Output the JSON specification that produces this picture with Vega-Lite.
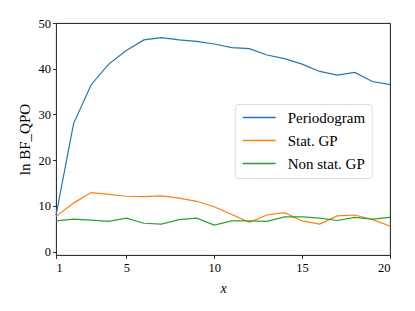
{
  "$schema": "https://vega.github.io/schema/vega-lite/v6.json",
  "autosize": {"type": "none"},
  "padding": {"left": 56, "top": 23, "right": 25, "bottom": 56},
  "width": 334,
  "height": 232,
  "background": "white",
  "config": {
    "font": "Liberation Serif",
    "view": {"stroke": "black", "strokeWidth": 0.9},
    "axis": {"grid": false, "domain": false, "tickColor": "black", "tickSize": 3.5, "tickWidth": 0.8, "labelColor": "black", "labelFontSize": 12.5, "labelPadding": 2, "titleColor": "black", "titleFontWeight": "normal", "titleFontSize": 14}
  },
  "data": {"values": [
    {"x": 1, "series": "Periodogram", "v": 7.9},
    {"x": 2, "series": "Periodogram", "v": 28.0},
    {"x": 3, "series": "Periodogram", "v": 36.5},
    {"x": 4, "series": "Periodogram", "v": 41.0},
    {"x": 5, "series": "Periodogram", "v": 44.0},
    {"x": 6, "series": "Periodogram", "v": 46.3},
    {"x": 7, "series": "Periodogram", "v": 46.8},
    {"x": 8, "series": "Periodogram", "v": 46.3},
    {"x": 9, "series": "Periodogram", "v": 46.0},
    {"x": 10, "series": "Periodogram", "v": 45.4},
    {"x": 11, "series": "Periodogram", "v": 44.6},
    {"x": 12, "series": "Periodogram", "v": 44.4},
    {"x": 13, "series": "Periodogram", "v": 43.0},
    {"x": 14, "series": "Periodogram", "v": 42.2},
    {"x": 15, "series": "Periodogram", "v": 41.0},
    {"x": 16, "series": "Periodogram", "v": 39.4},
    {"x": 17, "series": "Periodogram", "v": 38.6},
    {"x": 18, "series": "Periodogram", "v": 39.2},
    {"x": 19, "series": "Periodogram", "v": 37.2},
    {"x": 20, "series": "Periodogram", "v": 36.5},
    {"x": 1, "series": "Stat. GP", "v": 7.7},
    {"x": 2, "series": "Stat. GP", "v": 10.6},
    {"x": 3, "series": "Stat. GP", "v": 12.9},
    {"x": 4, "series": "Stat. GP", "v": 12.5},
    {"x": 5, "series": "Stat. GP", "v": 12.1},
    {"x": 6, "series": "Stat. GP", "v": 12.0},
    {"x": 7, "series": "Stat. GP", "v": 12.2},
    {"x": 8, "series": "Stat. GP", "v": 11.7},
    {"x": 9, "series": "Stat. GP", "v": 11.0},
    {"x": 10, "series": "Stat. GP", "v": 9.8},
    {"x": 11, "series": "Stat. GP", "v": 8.1},
    {"x": 12, "series": "Stat. GP", "v": 6.4},
    {"x": 13, "series": "Stat. GP", "v": 8.0},
    {"x": 14, "series": "Stat. GP", "v": 8.5},
    {"x": 15, "series": "Stat. GP", "v": 6.7},
    {"x": 16, "series": "Stat. GP", "v": 6.0},
    {"x": 17, "series": "Stat. GP", "v": 7.8},
    {"x": 18, "series": "Stat. GP", "v": 8.0},
    {"x": 19, "series": "Stat. GP", "v": 7.0},
    {"x": 20, "series": "Stat. GP", "v": 5.6},
    {"x": 1, "series": "Non stat. GP", "v": 6.7},
    {"x": 2, "series": "Non stat. GP", "v": 7.1},
    {"x": 3, "series": "Non stat. GP", "v": 6.9},
    {"x": 4, "series": "Non stat. GP", "v": 6.6},
    {"x": 5, "series": "Non stat. GP", "v": 7.3},
    {"x": 6, "series": "Non stat. GP", "v": 6.2},
    {"x": 7, "series": "Non stat. GP", "v": 6.0},
    {"x": 8, "series": "Non stat. GP", "v": 7.0},
    {"x": 9, "series": "Non stat. GP", "v": 7.3},
    {"x": 10, "series": "Non stat. GP", "v": 5.8},
    {"x": 11, "series": "Non stat. GP", "v": 6.7},
    {"x": 12, "series": "Non stat. GP", "v": 6.7},
    {"x": 13, "series": "Non stat. GP", "v": 6.6},
    {"x": 14, "series": "Non stat. GP", "v": 7.6},
    {"x": 15, "series": "Non stat. GP", "v": 7.6},
    {"x": 16, "series": "Non stat. GP", "v": 7.3},
    {"x": 17, "series": "Non stat. GP", "v": 6.8},
    {"x": 18, "series": "Non stat. GP", "v": 7.5},
    {"x": 19, "series": "Non stat. GP", "v": 7.1},
    {"x": 20, "series": "Non stat. GP", "v": 7.5}
  ]},
  "mark": {"type": "line", "strokeWidth": 1.2},
  "encoding": {
    "x": {"field": "x", "type": "quantitative", "scale": {"domain": [1, 20], "nice": false, "zero": false}, "axis": {"values": [1, 5, 10, 15, 20], "title": "x", "titleFontStyle": "italic", "titlePadding": 7, "labelPadding": 3}},
    "y": {"field": "v", "type": "quantitative", "scale": {"domain": [-0.75, 50], "nice": false, "zero": false}, "axis": {"values": [0, 10, 20, 30, 40, 50], "title": "ln BF_QPO", "titlePadding": 6, "titleFontSize": 15}},
    "color": {
      "field": "series", "type": "nominal",
      "scale": {"domain": ["Periodogram", "Stat. GP", "Non stat. GP"], "range": ["#1f77b4", "#ff7f0e", "#2ca02c"]},
      "legend": {
        "title": null, "orient": "none", "legendX": 178.7, "legendY": 81,
        "symbolType": "M-3,0H3", "symbolSize": 121, "symbolStrokeWidth": 1.5,
        "symbolOffset": 11, "labelOffset": 21,
        "labelFontSize": 15, "labelColor": "black",
        "rowPadding": 7, "padding": 6,
        "strokeColor": "#dddddd", "fillColor": "white", "cornerRadius": 3
      }
    }
  }
}
